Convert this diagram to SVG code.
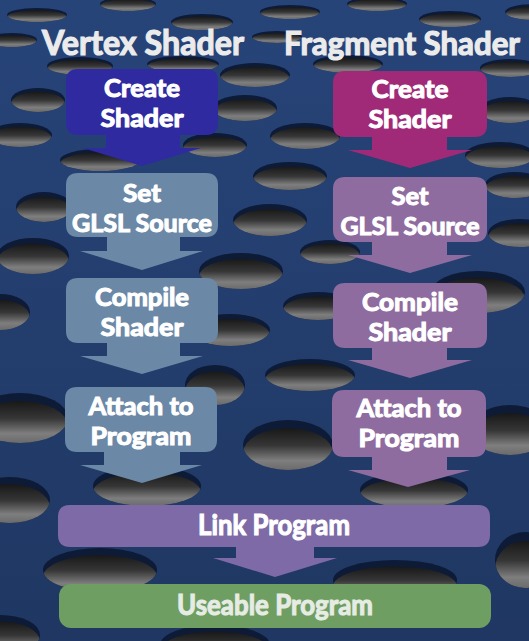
<svg xmlns="http://www.w3.org/2000/svg" xmlns:xlink="http://www.w3.org/1999/xlink" width="529" height="641" viewBox="0 0 529 641">
  <defs>
    <linearGradient id="plate" x1="0" y1="0" x2="0" y2="1">
      <stop offset="0" stop-color="#274479"/>
      <stop offset="1" stop-color="#1f3762"/>
    </linearGradient>
    <linearGradient id="bore" x1="0" y1="0" x2="0" y2="1">
      <stop offset="0" stop-color="#181818"/>
      <stop offset="0.35" stop-color="#363636"/>
      <stop offset="0.65" stop-color="#7e7e7e"/>
      <stop offset="0.85" stop-color="#6a6a6a"/>
      <stop offset="1" stop-color="#3a3a3a"/>
    </linearGradient>
    <clipPath id="holeClip">
      <ellipse cx="0" cy="0" rx="1" ry="1"/>
    </clipPath>
    <!-- one perforation: dark rim at the top edge, shaded bore below -->
    <symbol id="hole" viewBox="-1 -1 2 2" preserveAspectRatio="none" overflow="visible">
      <ellipse cx="0" cy="0" rx="1" ry="1" fill="#0d1b37"/>
      <g clip-path="url(#holeClip)">
        <ellipse cx="0" cy="0.32" rx="1" ry="1" fill="url(#bore)"/>
      </g>
    </symbol>
  </defs>
  <style>
    .title { font-family: Lato, "Open Sans", sans-serif; font-weight: 700; font-size: 34px; fill: #ebebeb; stroke: #ebebeb; stroke-width: 1.2px; }
    .lbl { font-family: Lato, "Open Sans", sans-serif; font-weight: 700; font-size: 25px; fill: #ffffff; stroke: #ffffff; stroke-width: 1.1px; text-anchor: middle; }
    .vcreate { fill: #2f2aa0; }
    .fcreate { fill: #a02a78; }
    .vstep { fill: #6b88a6; }
    .fstep { fill: #8f6c9f; }
    .link { fill: #7e6aa6; }
    .done { fill: #6f9e63; }
  </style>

  <!-- perforated plate -->
  <rect x="0" y="0" width="529" height="641" fill="url(#plate)"/>
  <g id="perforations">
    <use href="#hole" x="7" y="8" width="60" height="14"/>
    <use href="#hole" x="100" y="-3" width="56" height="14"/>
    <use href="#hole" x="171" y="14" width="62" height="16"/>
    <use href="#hole" x="260" y="5" width="60" height="14"/>
    <use href="#hole" x="347" y="-3" width="60" height="14"/>
    <use href="#hole" x="419" y="11" width="62" height="16"/>
    <use href="#hole" x="505" y="4" width="60" height="16"/>
    <use href="#hole" x="-13" y="33" width="50" height="14"/>
    <use href="#hole" x="47" y="57" width="66" height="18"/>
    <use href="#hole" x="147" y="56" width="72" height="16"/>
    <use href="#hole" x="220" y="63" width="70" height="24"/>
    <use href="#hole" x="252" y="31" width="50" height="12"/>
    <use href="#hole" x="313" y="55" width="70" height="18"/>
    <use href="#hole" x="480" y="59" width="60" height="18"/>
    <use href="#hole" x="11" y="88" width="54" height="24"/>
    <use href="#hole" x="213" y="95" width="64" height="26"/>
    <use href="#hole" x="270" y="123" width="70" height="26"/>
    <use href="#hole" x="-12" y="123" width="64" height="24"/>
    <use href="#hole" x="480" y="97" width="60" height="26"/>
    <use href="#hole" x="465" y="142" width="70" height="26"/>
    <use href="#hole" x="183" y="133" width="64" height="24"/>
    <use href="#hole" x="60" y="149" width="80" height="22"/>
    <use href="#hole" x="16" y="192" width="56" height="30"/>
    <use href="#hole" x="233" y="204" width="74" height="32"/>
    <use href="#hole" x="253" y="162" width="74" height="28"/>
    <use href="#hole" x="485" y="172" width="60" height="26"/>
    <use href="#hole" x="488" y="219" width="64" height="28"/>
    <use href="#hole" x="-3" y="238" width="72" height="36"/>
    <use href="#hole" x="199" y="253" width="84" height="36"/>
    <use href="#hole" x="300" y="240" width="60" height="24"/>
    <use href="#hole" x="431" y="271" width="94" height="42"/>
    <use href="#hole" x="283" y="292" width="70" height="28"/>
    <use href="#hole" x="190" y="314" width="80" height="32"/>
    <use href="#hole" x="-30" y="294" width="60" height="36"/>
    <use href="#hole" x="-28" y="393" width="96" height="50"/>
    <use href="#hole" x="-30" y="477" width="80" height="46"/>
    <use href="#hole" x="185" y="365" width="60" height="40"/>
    <use href="#hole" x="243" y="420" width="90" height="50"/>
    <use href="#hole" x="265" y="359" width="90" height="32"/>
    <use href="#hole" x="93" y="466" width="108" height="40"/>
    <use href="#hole" x="360" y="472" width="108" height="36"/>
    <use href="#hole" x="470" y="405" width="80" height="50"/>
    <use href="#hole" x="495" y="532" width="60" height="56"/>
    <use href="#hole" x="43" y="548" width="114" height="44"/>
    <use href="#hole" x="333" y="560" width="124" height="40"/>
    <use href="#hole" x="160" y="625" width="110" height="40"/>
    <use href="#hole" x="-40" y="615" width="80" height="40"/>
  </g>

  <!-- column headings -->
  <text class="title" x="42" y="55" textLength="202" lengthAdjust="spacingAndGlyphs">Vertex Shader</text>
  <text class="title" x="284" y="55" textLength="236" lengthAdjust="spacingAndGlyphs" style="font-size:31.5px">Fragment Shader</text>

  <!-- vertex shader column -->
  <g id="vertex-create">
    <path class="vcreate" d="M78,69 H206 Q218,69 218,81 V123 Q218,135 206,135 H180 V148 H201 L142,166 L83,148 H106 V135 H78 Q66,135 66,123 V81 Q66,69 78,69 Z"/>
    <text class="lbl"><tspan x="142" y="97" textLength="76" lengthAdjust="spacingAndGlyphs">Create</tspan><tspan x="142" y="127" textLength="83" lengthAdjust="spacingAndGlyphs">Shader</tspan></text>
  </g>
  <g id="vertex-source">
    <path class="vstep" d="M78,173 H206 Q218,173 218,185 V225 Q218,237 206,237 H180 V251 H203 L142,270 L80,251 H107 V237 H78 Q66,237 66,225 V185 Q66,173 78,173 Z"/>
    <text class="lbl"><tspan x="142" y="202" textLength="38" lengthAdjust="spacingAndGlyphs">Set</tspan><tspan x="142" y="232" textLength="140" lengthAdjust="spacingAndGlyphs">GLSL Source</tspan></text>
  </g>
  <g id="vertex-compile">
    <path class="vstep" d="M78,278 H206 Q218,278 218,290 V331 Q218,343 206,343 H180 V356 H203 L142,374 L80,356 H107 V343 H78 Q66,343 66,331 V290 Q66,278 78,278 Z"/>
    <text class="lbl"><tspan x="142" y="306" textLength="94" lengthAdjust="spacingAndGlyphs">Compile</tspan><tspan x="142" y="336" textLength="83" lengthAdjust="spacingAndGlyphs">Shader</tspan></text>
  </g>
  <g id="vertex-attach">
    <path class="vstep" d="M77,387 H205 Q217,387 217,399 V440 Q217,452 205,452 H180 V465 H202 L142,483 L80,465 H104 V452 H77 Q65,452 65,440 V399 Q65,387 77,387 Z"/>
    <text class="lbl"><tspan x="141" y="415" textLength="105" lengthAdjust="spacingAndGlyphs">Attach to</tspan><tspan x="141" y="445" textLength="101" lengthAdjust="spacingAndGlyphs">Program</tspan></text>
  </g>

  <!-- fragment shader column -->
  <g id="fragment-create">
    <path class="fcreate" d="M345,71 H475 Q487,71 487,83 V125 Q487,137 475,137 H447 V150 H472 L410,168 L348,150 H372 V137 H345 Q333,137 333,125 V83 Q333,71 345,71 Z"/>
    <text class="lbl"><tspan x="410" y="98" textLength="77" lengthAdjust="spacingAndGlyphs">Create</tspan><tspan x="410" y="128" textLength="83" lengthAdjust="spacingAndGlyphs">Shader</tspan></text>
  </g>
  <g id="fragment-source">
    <path class="fstep" d="M345,177 H475 Q487,177 487,189 V230 Q487,242 475,242 H447 V255 H472 L410,273 L348,255 H372 V242 H345 Q333,242 333,230 V189 Q333,177 345,177 Z"/>
    <text class="lbl"><tspan x="410" y="205" textLength="37" lengthAdjust="spacingAndGlyphs">Set</tspan><tspan x="410" y="235" textLength="139" lengthAdjust="spacingAndGlyphs">GLSL Source</tspan></text>
  </g>
  <g id="fragment-compile">
    <path class="fstep" d="M345,283 H475 Q487,283 487,295 V336 Q487,348 475,348 H447 V360 H472 L410,378 L348,360 H372 V348 H345 Q333,348 333,336 V295 Q333,283 345,283 Z"/>
    <text class="lbl"><tspan x="410" y="311" textLength="96" lengthAdjust="spacingAndGlyphs">Compile</tspan><tspan x="410" y="341" textLength="83" lengthAdjust="spacingAndGlyphs">Shader</tspan></text>
  </g>
  <g id="fragment-attach">
    <path class="fstep" d="M344,390 H474 Q486,390 486,402 V445 Q486,457 474,457 H447 V470 H470 L408,487 L348,470 H372 V457 H344 Q332,457 332,445 V402 Q332,390 344,390 Z"/>
    <text class="lbl"><tspan x="409" y="417" textLength="105" lengthAdjust="spacingAndGlyphs">Attach to</tspan><tspan x="409" y="447" textLength="101" lengthAdjust="spacingAndGlyphs">Program</tspan></text>
  </g>

  <!-- shared steps -->
  <g id="link-program">
    <path class="link" d="M70,505 H478 Q490,505 490,517 V535 Q490,547 478,547 H314 V558 H337 L275,577 L213,558 H236 V547 H70 Q58,547 58,535 V517 Q58,505 70,505 Z"/>
    <text class="lbl" x="274" y="535" textLength="152" lengthAdjust="spacingAndGlyphs" style="font-size:29px">Link Program</text>
  </g>
  <g id="useable-program">
    <rect class="done" x="59" y="584" width="432" height="44" rx="12"/>
    <text class="lbl" x="275" y="615" textLength="196" lengthAdjust="spacingAndGlyphs" style="font-size:29px;fill:#e6ece4;stroke:#e6ece4">Useable Program</text>
  </g>
</svg>
